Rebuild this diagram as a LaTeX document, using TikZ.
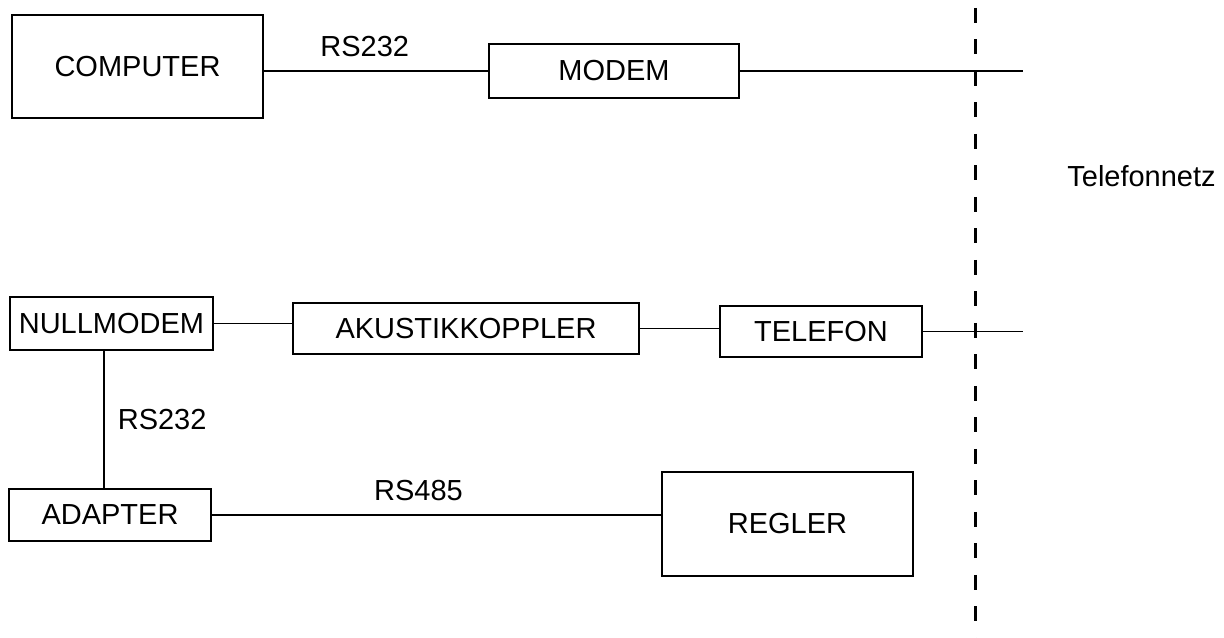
\documentclass[tikz,border=0pt]{standalone}
\usepackage{fontspec}
\setmainfont{Liberation Sans}
\usetikzlibrary{positioning}

\begin{document}
\begin{tikzpicture}[x=0.02cm,y=-0.02cm,font=\fontsize{16.5}{19}\selectfont,
  box/.style={draw,line width=1.1pt,inner sep=0pt},
  link/.style={line width=1.1pt},
  grenze/.style={line width=1.7pt,dash pattern=on 0.3cm off 0.33cm}]
\useasboundingbox (0,0) rectangle (1224,638);
% boxes
\node[box,minimum width=251*0.02cm,minimum height=103*0.02cm] (computer) at (137.5,66.5) {COMPUTER};
\node[box,minimum width=250*0.02cm,minimum height=54*0.02cm] (modem) at (614,71) {MODEM};
\node[box,minimum width=203*0.02cm,minimum height=53*0.02cm] (nullmodem) at (111.5,323.5) {NULLMODEM};
\node[box,minimum width=346*0.02cm,minimum height=51*0.02cm] (akustik) at (466,328.5) {AKUSTIKKOPPLER};
\node[box,minimum width=202*0.02cm,minimum height=51*0.02cm] (telefon) at (821,331.5) {TELEFON};
\node[box,minimum width=202*0.02cm,minimum height=52*0.02cm] (adapter) at (110,515) {ADAPTER};
\node[box,minimum width=251*0.02cm,minimum height=104*0.02cm] (regler) at (787.5,524) {REGLER};
% telephone network
\coordinate (netztop) at (975,8);
\coordinate (netzbot) at (975,638);
\coordinate (netzA) at (1023,71);
\coordinate (netzB) at (1023,331.5);
\node[anchor=west,inner sep=0pt] (telefonnetz) at (1067,176) {Telefonnetz};
\draw[grenze] (netztop) -- (netzbot);
% connections
\draw[link] (computer.east |- modem.west) -- node[above=4pt,pos=0.45] {RS232} (modem.west);
\draw[link] (modem.east) -- (netzA);
\draw[link] (nullmodem.east) -- (nullmodem.east -| akustik.west);
\draw[link] (akustik.east) -- (akustik.east -| telefon.west);
\draw[link] (telefon.east) -- (netzB);
\draw[link] (nullmodem.south -| 104,0) -- node[right=4pt] {RS232} (adapter.north -| 104,0);
\draw[link] (adapter.east) -- node[above=4pt,pos=0.46] {RS485} (adapter.east -| regler.west);
\end{tikzpicture}
\end{document}
